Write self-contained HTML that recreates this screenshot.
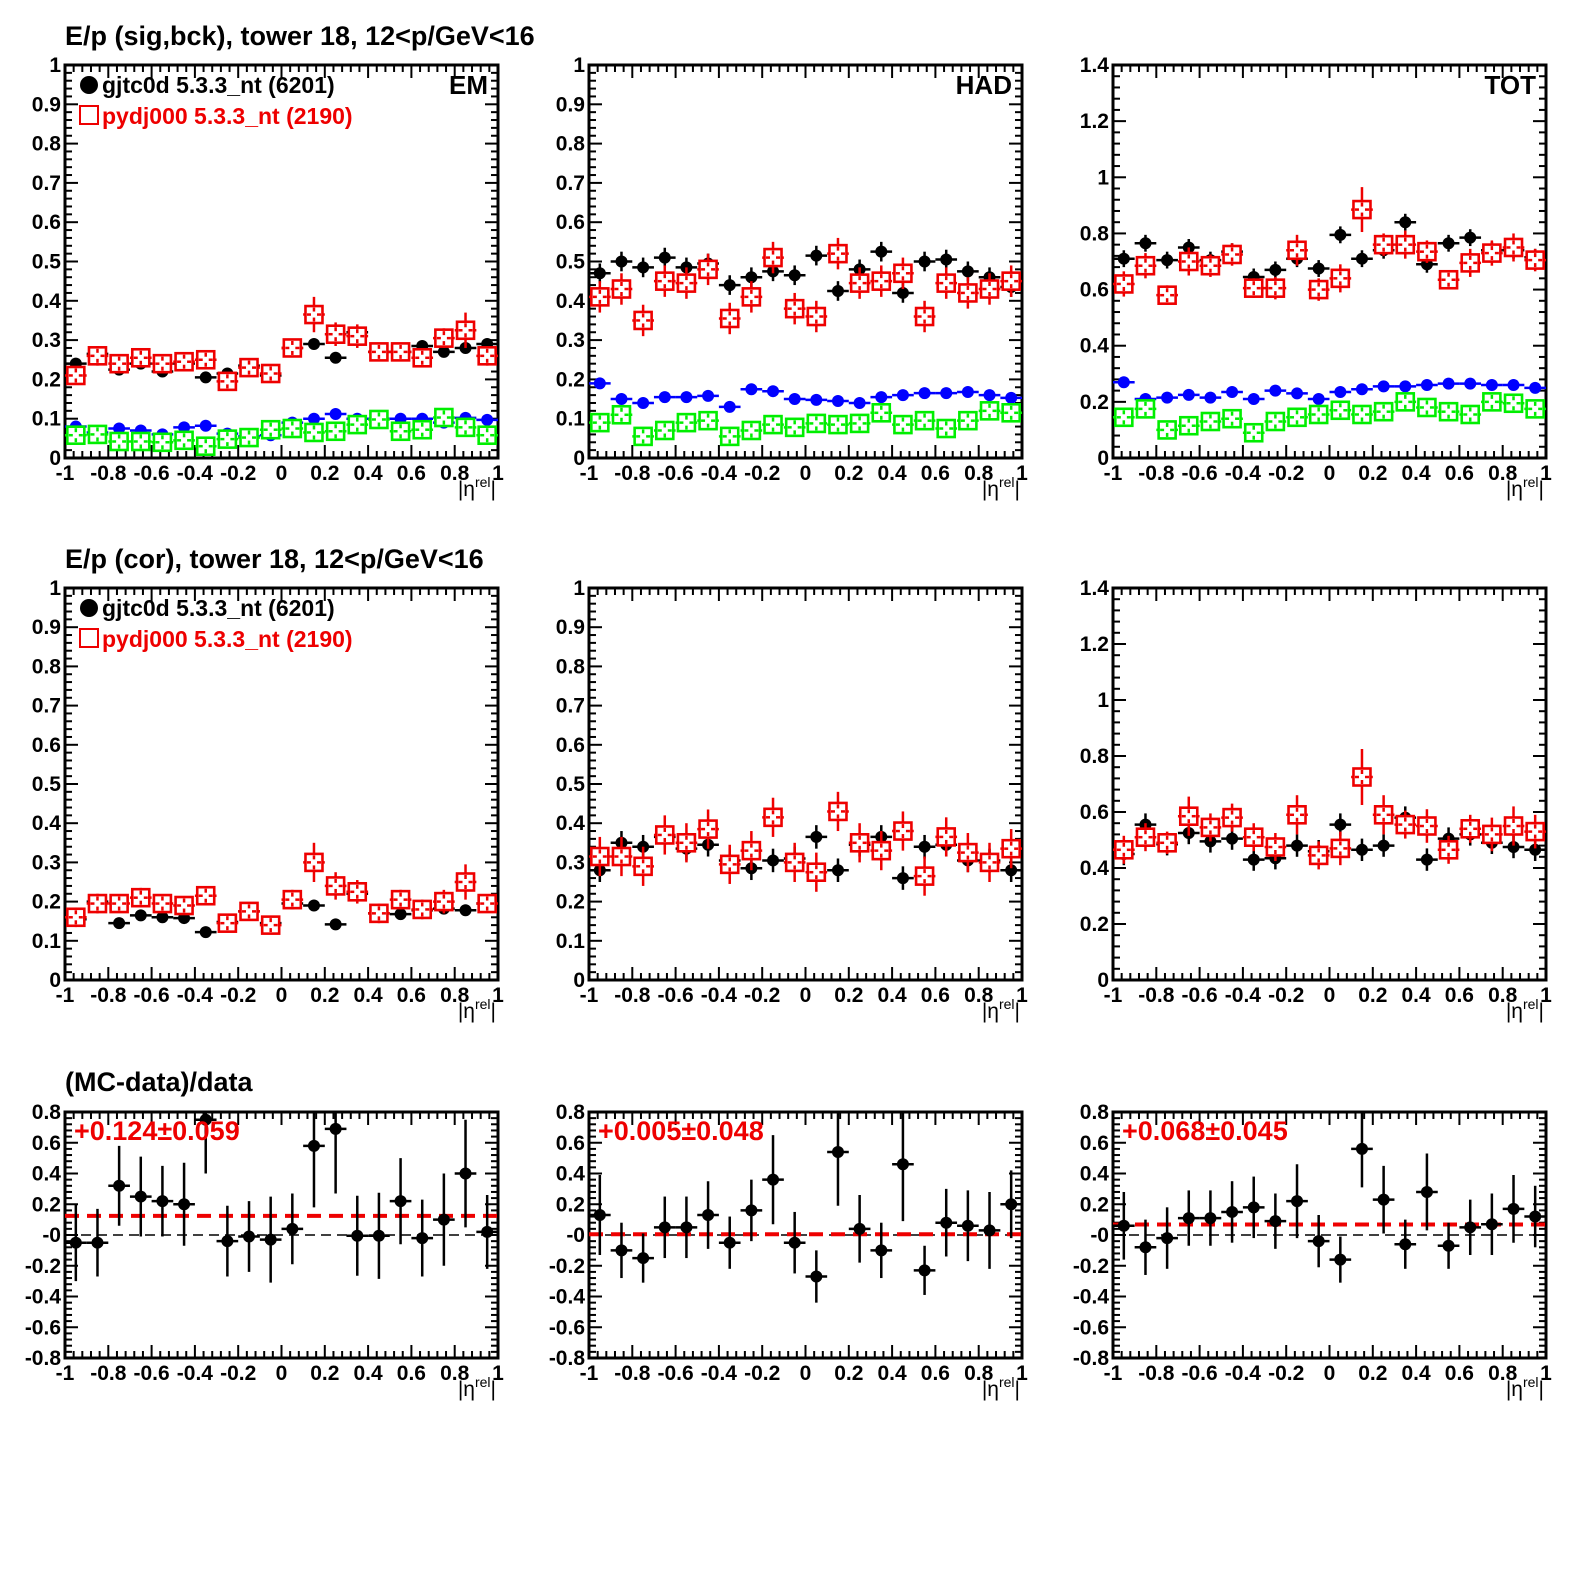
<!DOCTYPE html>
<html><head><meta charset="utf-8"><style>
html,body{margin:0;padding:0;background:#fff;}
svg text{font-family:"Liberation Sans",sans-serif;font-weight:bold;}
</style></head><body>
<svg id="s" width="1575" height="1575" xmlns="http://www.w3.org/2000/svg"></svg>
<script>
const S=document.getElementById('s');let h='';
const W=433;
const cols=[65,589,1113];
const rows=[{t:65,b:458},{t:588,b:980},{t:1112,b:1358}];
function panel(c,r,ymin,ymax,ystep,ylabfmt,series,opts){
 const L=cols[c],R=L+W,T=rows[r].t,B=rows[r].b;
 const X=v=>L+(v+1)/2*W, Y=v=>B-(v-ymin)/(ymax-ymin)*(B-T);
 let g='';
 for(let i=0;i<=50;i++){const v=-1+i*0.04;const x=X(v);const maj=i%5==0;const l=maj?13:7;
  g+=`<line x1="${x}" y1="${B}" x2="${x}" y2="${B-l}" stroke="#000" stroke-width="2"/><line x1="${x}" y1="${T}" x2="${x}" y2="${T+l}" stroke="#000" stroke-width="2"/>`;
  if(maj){g+=`<text x="${x}" y="${B+22}" font-size="21" text-anchor="middle">${(Math.round(v*10)/10).toString()}</text>`;}}
 const nmaj=Math.round((ymax-ymin)/ystep);
 for(let i=0;i<=nmaj*5;i++){const v=ymin+i*ystep/5;const y=Y(v);const maj=i%5==0;const l=maj?13:7;
  g+=`<line x1="${L}" y1="${y}" x2="${L+l}" y2="${y}" stroke="#000" stroke-width="2"/><line x1="${R}" y1="${y}" x2="${R-l}" y2="${y}" stroke="#000" stroke-width="2"/>`;
  if(maj){g+=`<text x="${L-4}" y="${y+7}" font-size="21" text-anchor="end">${ylabfmt(v)}</text>`;}}
 g+=`<rect x="${L}" y="${T}" width="${W}" height="${B-T}" fill="none" stroke="#000" stroke-width="3"/>`;
 g+=`<text x="${R-2}" y="${B+38}" font-size="21" text-anchor="end" style="font-weight:normal">|η<tspan font-size="14" dy="-9">rel</tspan><tspan dy="9">|</tspan></text>`;
 if(opts.lines){opts.lines.forEach(l=>{g+=`<line x1="${L}" y1="${Y(l.v)}" x2="${R}" y2="${Y(l.v)}" stroke="${l.c}" stroke-width="${l.w}" stroke-dasharray="${l.d}"/>`;});}
 series.forEach(s=>{
  s.v.forEach((v,i)=>{const xc=-0.95+i*0.1;const x=X(xc),y=Y(v);const e=Array.isArray(s.e)?s.e[i]:s.e;
   let y1=Y(v+e),y2=Y(v-e);y1=Math.max(y1,T);y2=Math.min(y2,B);
   if(y<T-2||y>B+2)return;
   g+=`<line x1="${X(xc-0.05)}" y1="${y}" x2="${X(xc+0.05)}" y2="${y}" stroke="${s.c}" stroke-width="2.5"/>`;
   g+=`<line x1="${x}" y1="${y1}" x2="${x}" y2="${y2}" stroke="${s.c}" stroke-width="2.5"/>`;
   if(s.m=='c')g+=`<circle cx="${x}" cy="${y}" r="6" fill="${s.c}"/>`;
   else g+=`<rect x="${x-8.5}" y="${y-8.5}" width="17" height="17" fill="#fff" stroke="${s.c}" stroke-width="2.6"/><line x1="${x}" y1="${y-7}" x2="${x}" y2="${y-3}" stroke="${s.c}" stroke-width="2.5"/><line x1="${x}" y1="${y+3}" x2="${x}" y2="${y+7}" stroke="${s.c}" stroke-width="2.5"/><line x1="${x-7}" y1="${y}" x2="${x-3}" y2="${y}" stroke="${s.c}" stroke-width="2.5"/><line x1="${x+3}" y1="${y}" x2="${x+7}" y2="${y}" stroke="${s.c}" stroke-width="2.5"/>`;
  });});
 if(opts.label)g+=`<text x="${R-10}" y="${T+29}" font-size="26" text-anchor="end">${opts.label}</text>`;
 if(opts.legend){g+=`<circle cx="${L+24}" cy="${T+20}" r="9" fill="#000"/><text x="${L+37}" y="${T+28}" font-size="23">gjtc0d 5.3.3_nt (6201)</text>
 <rect x="${L+15}" y="${T+41}" width="18" height="18" fill="none" stroke="#e00" stroke-width="2"/><text x="${L+37}" y="${T+59}" font-size="23" fill="#e00">pydj000 5.3.3_nt (2190)</text>`;}
 if(opts.fit)g+=`<text x="${L+9}" y="${T+28}" font-size="27" fill="#e00">${opts.fit}</text>`;
 h+=g;
}
const f1=v=>{v=Math.round(v*10)/10;return v.toString();};
const f3=v=>{v=Math.round(v*10)/10;if(Math.abs(v)<1e-9)return '-0';return v.toString();};
const BK='#000',RD='#e00',BL='#00f',GR='#0e0';
panel(0,0,0,1,0.1,f1,[
 {c:BL,m:'c',e:0.005,v:[0.08,0.065,0.075,0.07,0.06,0.078,0.082,0.062,0.055,0.058,0.09,0.10,0.112,0.10,0.10,0.10,0.10,0.09,0.102,0.097]},
 {c:GR,m:'s',e:0.008,v:[0.058,0.06,0.042,0.042,0.04,0.045,0.03,0.048,0.052,0.072,0.075,0.065,0.068,0.085,0.098,0.068,0.072,0.103,0.078,0.058]},
 {c:BK,m:'c',e:0.012,v:[0.24,0.265,0.225,0.24,0.22,0.24,0.205,0.215,0.235,0.21,0.28,0.29,0.255,0.32,0.27,0.27,0.285,0.27,0.28,0.29]},
 {c:RD,m:'s',e:[0.02,0.025,0.02,0.02,0.02,0.02,0.02,0.02,0.02,0.02,0.02,0.045,0.03,0.03,0.02,0.02,0.02,0.025,0.045,0.025],v:[0.21,0.26,0.24,0.255,0.24,0.245,0.25,0.195,0.23,0.215,0.28,0.365,0.315,0.31,0.27,0.27,0.255,0.305,0.325,0.26]}
],{label:'EM',legend:true});
panel(1,0,0,1,0.1,f1,[
 {c:BL,m:'c',e:0.008,v:[0.19,0.15,0.14,0.155,0.155,0.158,0.13,0.175,0.17,0.15,0.148,0.145,0.14,0.155,0.16,0.165,0.165,0.168,0.16,0.153]},
 {c:GR,m:'s',e:0.01,v:[0.09,0.11,0.055,0.07,0.09,0.095,0.055,0.07,0.085,0.078,0.088,0.085,0.088,0.115,0.085,0.095,0.075,0.095,0.12,0.115]},
 {c:BK,m:'c',e:0.025,v:[0.47,0.50,0.485,0.51,0.485,0.495,0.44,0.46,0.475,0.465,0.515,0.425,0.48,0.525,0.42,0.5,0.505,0.475,0.46,0.435]},
 {c:RD,m:'s',e:0.04,v:[0.41,0.43,0.35,0.45,0.445,0.48,0.355,0.41,0.51,0.38,0.36,0.52,0.445,0.45,0.47,0.36,0.445,0.42,0.43,0.45]}
],{label:'HAD'});
panel(2,0,0,1.4,0.2,f1,[
 {c:BL,m:'c',e:0.01,v:[0.27,0.21,0.215,0.225,0.215,0.235,0.21,0.24,0.23,0.21,0.235,0.245,0.255,0.255,0.26,0.265,0.265,0.26,0.26,0.25]},
 {c:GR,m:'s',e:0.015,v:[0.145,0.175,0.1,0.115,0.13,0.14,0.09,0.13,0.145,0.155,0.17,0.155,0.165,0.2,0.18,0.165,0.155,0.2,0.195,0.175]},
 {c:BK,m:'c',e:0.03,v:[0.71,0.765,0.705,0.75,0.705,0.735,0.645,0.67,0.71,0.675,0.795,0.71,0.74,0.84,0.69,0.765,0.785,0.74,0.74,0.715]},
 {c:RD,m:'s',e:[0.045,0.045,0.035,0.05,0.04,0.04,0.035,0.04,0.055,0.04,0.05,0.08,0.04,0.05,0.04,0.03,0.05,0.045,0.05,0.04],v:[0.62,0.685,0.58,0.7,0.685,0.725,0.605,0.605,0.74,0.6,0.64,0.885,0.76,0.76,0.735,0.635,0.695,0.73,0.75,0.705]}
],{label:'TOT'});
panel(0,1,0,1,0.1,f1,[
 {c:BK,m:'c',e:0.012,v:[0.155,0.2,0.145,0.165,0.16,0.158,0.122,0.148,0.175,0.145,0.195,0.19,0.142,0.22,0.17,0.168,0.178,0.182,0.178,0.195]},
 {c:RD,m:'s',e:[0.025,0.025,0.02,0.025,0.02,0.02,0.02,0.02,0.02,0.02,0.025,0.05,0.035,0.03,0.025,0.025,0.025,0.03,0.045,0.02],v:[0.16,0.195,0.195,0.21,0.195,0.19,0.215,0.145,0.175,0.14,0.205,0.3,0.24,0.225,0.17,0.205,0.18,0.2,0.25,0.195]}
],{legend:true});
panel(1,1,0,1,0.1,f1,[
 {c:BK,m:'c',e:0.03,v:[0.28,0.35,0.34,0.365,0.335,0.345,0.305,0.285,0.305,0.31,0.365,0.28,0.345,0.365,0.26,0.34,0.345,0.305,0.305,0.28]},
 {c:RD,m:'s',e:0.05,v:[0.315,0.315,0.29,0.37,0.35,0.385,0.295,0.33,0.415,0.3,0.275,0.43,0.35,0.33,0.38,0.265,0.365,0.325,0.3,0.335]}
],{});
panel(2,1,0,1.4,0.2,f1,[
 {c:BK,m:'c',e:0.04,v:[0.45,0.555,0.485,0.525,0.495,0.505,0.43,0.435,0.48,0.46,0.555,0.465,0.48,0.58,0.43,0.505,0.52,0.49,0.475,0.465]},
 {c:RD,m:'s',e:[0.05,0.05,0.04,0.07,0.05,0.05,0.05,0.05,0.07,0.05,0.06,0.1,0.07,0.05,0.06,0.05,0.05,0.06,0.07,0.06],v:[0.465,0.51,0.49,0.585,0.545,0.58,0.51,0.475,0.59,0.445,0.47,0.725,0.59,0.555,0.55,0.465,0.54,0.52,0.55,0.53]}
],{});
panel(0,2,-0.8,0.8,0.2,f3,[
 {c:BK,m:'c',e:[0.25,0.22,0.26,0.26,0.23,0.27,0.35,0.23,0.23,0.28,0.23,0.4,0.42,0.26,0.28,0.28,0.25,0.3,0.35,0.24],v:[-0.05,-0.05,0.32,0.25,0.22,0.2,0.75,-0.04,-0.01,-0.03,0.04,0.58,0.69,-0.005,-0.005,0.22,-0.02,0.1,0.4,0.02]}
],{fit:'+0.124±0.059',lines:[{v:0,c:'#000',w:1.5,d:'10,6'},{v:0.124,c:'#e00',w:4,d:'14,8'}]});
panel(1,2,-0.8,0.8,0.2,f3,[
 {c:BK,m:'c',e:[0.26,0.18,0.16,0.2,0.2,0.22,0.17,0.2,0.29,0.2,0.17,0.35,0.22,0.18,0.37,0.16,0.22,0.23,0.25,0.22],v:[0.13,-0.1,-0.15,0.05,0.05,0.13,-0.05,0.16,0.36,-0.05,-0.27,0.54,0.04,-0.1,0.46,-0.23,0.08,0.06,0.03,0.2]}
],{fit:'+0.005±0.048',lines:[{v:0,c:'#000',w:1.5,d:'10,6'},{v:0.005,c:'#e00',w:4,d:'14,8'}]});
panel(2,2,-0.8,0.8,0.2,f3,[
 {c:BK,m:'c',e:[0.22,0.18,0.2,0.18,0.18,0.2,0.2,0.18,0.24,0.17,0.15,0.25,0.22,0.16,0.25,0.15,0.18,0.2,0.22,0.2],v:[0.06,-0.08,-0.02,0.11,0.11,0.15,0.18,0.09,0.22,-0.04,-0.16,0.56,0.23,-0.06,0.28,-0.07,0.05,0.07,0.17,0.12]}
],{fit:'+0.068±0.045',lines:[{v:0,c:'#000',w:1.5,d:'10,6'},{v:0.068,c:'#e00',w:4,d:'14,8'}]});
h+=`<text x="65" y="45" font-size="27">E/p (sig,bck), tower 18, 12&lt;p/GeV&lt;16</text>`;
h+=`<rect x="540" y="10" width="40" height="45" fill="#fff"/>`;
h+=`<text x="65" y="568" font-size="27">E/p (cor), tower 18, 12&lt;p/GeV&lt;16</text>`;
h+=`<text x="65" y="1091" font-size="27">(MC-data)/data</text>`;
S.innerHTML=h;
</script>
</body></html>
